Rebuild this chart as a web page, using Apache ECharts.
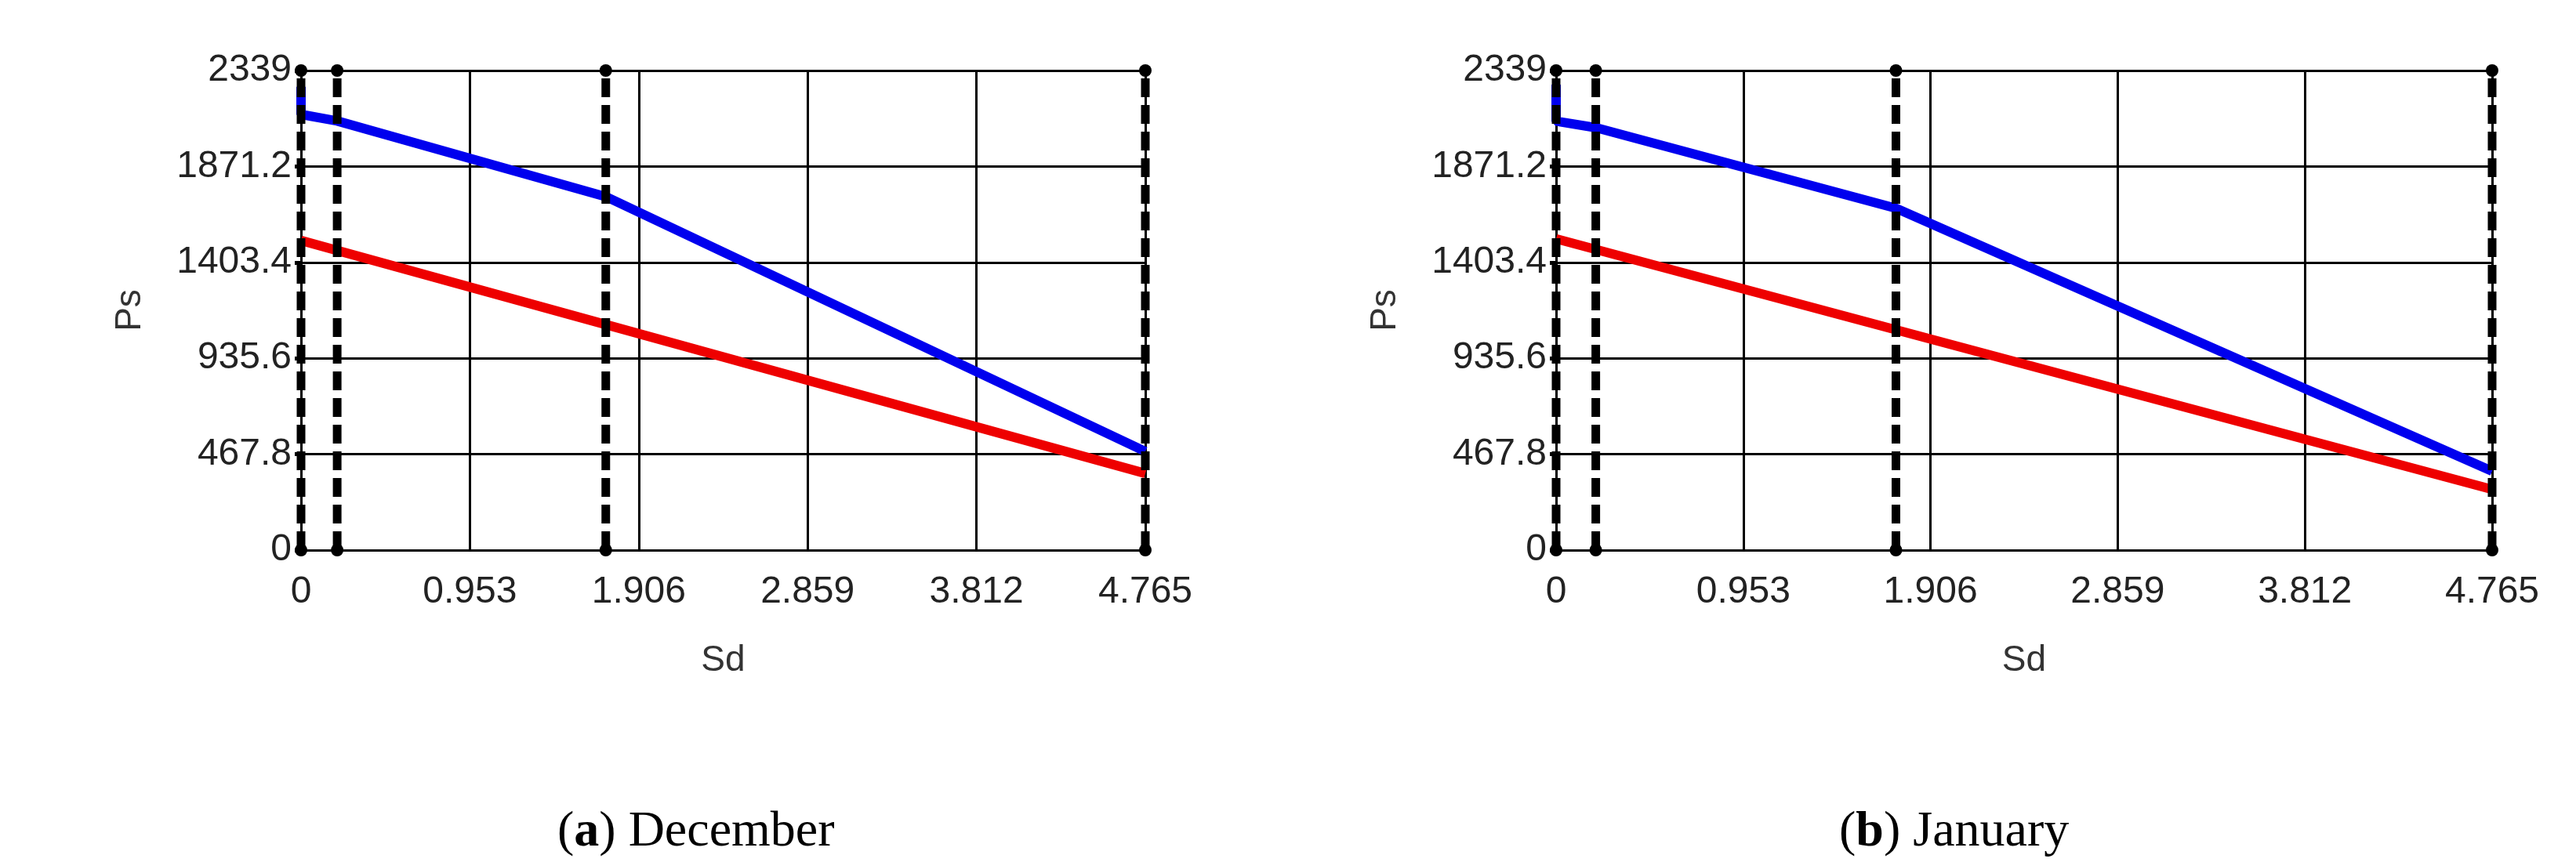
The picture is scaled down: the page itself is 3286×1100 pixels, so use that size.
<!DOCTYPE html>
<html>
<head>
<meta charset="utf-8">
<script src="https://cdn.jsdelivr.net/npm/echarts@6/dist/echarts.min.js"></script>
<style>
  html, body { margin: 0; background: #fff; }
  #chart { width: 3286px; height: 1100px; }
</style>
</head>
<body>
<div id="chart"></div>
<script>
const xTicks = [0, 0.953, 1.906, 2.859, 3.812, 4.765]
const yTicks = [0, 467.8, 935.6, 1403.4, 1871.2, 2339]
const dashX = [0, 0.204, 1.72, 4.765]

// December
const decBlue = [[0, 2260], [0, 2125], [0.204, 2093], [1.72, 1724], [4.765, 481]]
const decRed = [[0, 1510], [4.765, 374]]
// January
const janBlue = [[0, 2270], [0, 2092], [0.204, 2060], [1.73, 1667], [4.765, 385]]
const janRed = [[0, 1518], [4.765, 296]]
const janDashX = [0, 0.202, 1.73, 4.765]

const font = "'Liberation Sans Narrow', 'Liberation Sans', Arial, sans-serif"

const chart = echarts.init(document.getElementById('chart'))

const xAxis = (i) => ({
  type: 'value', gridIndex: i, min: 0, max: 4.765, interval: 0.953,
  name: 'Sd', nameLocation: 'middle', nameGap: 118,
  nameTextStyle: {fontFamily: font, fontSize: 46, color: '#333'},
  axisLabel: {fontFamily: font, fontSize: 48, color: '#222', margin: 30,
    formatter: v => xTicks.find(t => Math.abs(t - v) < 1e-6) + ''},
  axisLine: {lineStyle: {color: '#000', width: 3}},
  axisTick: {show: false},
  splitLine: {lineStyle: {color: '#000', width: 3}},
})

const yAxis = (i) => ({
  type: 'value', gridIndex: i, min: 0, max: 2339, interval: 467.8,
  name: 'Ps', nameLocation: 'middle', nameGap: 195, nameRotate: 90,
  nameTextStyle: {fontFamily: font, fontSize: 46, color: '#333'},
  axisLabel: {fontFamily: font, fontSize: 48, color: '#222', margin: 12,
    formatter: v => {
      const t = yTicks.find(t => Math.abs(t - v) < 1e-6)
      return t === undefined ? '' : t + ''
    }},
  axisLine: {lineStyle: {color: '#000', width: 3}},
  axisTick: {show: true, length: 8, lineStyle: {color: '#000', width: 5}},
  splitLine: {lineStyle: {color: '#000', width: 3}},
})

const dashSeries = (xs, i) => xs.map(x => ({
  type: 'line', xAxisIndex: i, yAxisIndex: i, z: 5,
  data: [[x, 0], [x, 2339]],
  symbol: 'circle', symbolSize: 16,
  itemStyle: {color: '#000'},
  lineStyle: {color: '#000', width: 11, type: [24, 10]},
  silent: true,
}))

const lineSeries = (data, color, i) => ({
  type: 'line', xAxisIndex: i, yAxisIndex: i, z: 4,
  data, symbol: 'none',
  lineStyle: {color, width: 12},
})

chart.setOption({
  animation: false,
  grid: [
    {left: 384, width: 1077, top: 90, height: 612},
    {left: 1985, width: 1194, top: 90, height: 612},
  ],
  xAxis: [xAxis(0), xAxis(1)],
  yAxis: [yAxis(0), yAxis(1)],
  series: [
    lineSeries(decBlue, '#0000ee', 0),
    lineSeries(decRed, '#ee0000', 0),
    lineSeries(janBlue, '#0000ee', 1),
    lineSeries(janRed, '#ee0000', 1),
    ...dashSeries(dashX, 0),
    ...dashSeries(janDashX, 1),
  ],
  graphic: [
    {type: 'text', left: 916 - 205, top: 1030, style: {
      text: '({b|a}) December', font: "64px 'Liberation Serif', serif", fill: '#000',
      rich: {b: {fontWeight: 'bold', fontSize: 64, fontFamily: 'Liberation Serif'}}}},
    {type: 'text', left: 2511 - 165, top: 1030, style: {
      text: '({b|b}) January', font: "64px 'Liberation Serif', serif", fill: '#000',
      rich: {b: {fontWeight: 'bold', fontSize: 64, fontFamily: 'Liberation Serif'}}}},
  ],
})
</script>
</body>
</html>
